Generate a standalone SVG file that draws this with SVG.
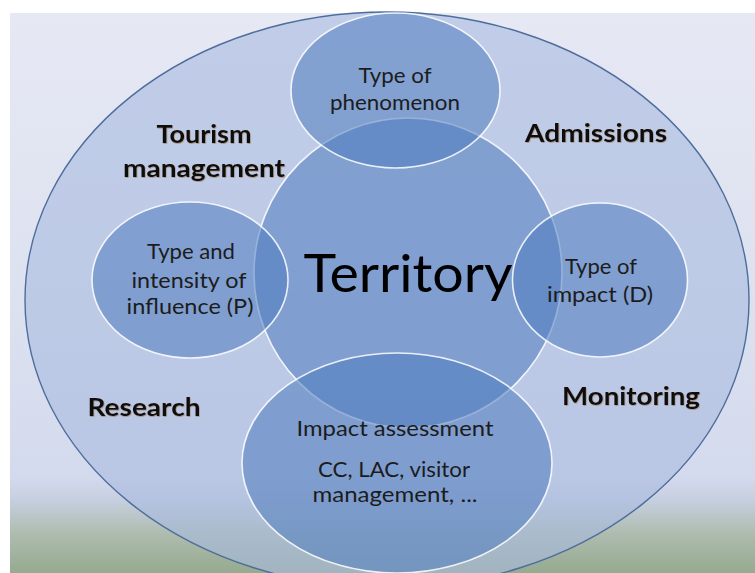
<svg xmlns="http://www.w3.org/2000/svg" width="755" height="573" viewBox="0 0 755 573">
  <defs>
    <linearGradient id="bg" x1="0" y1="13" x2="0" y2="573" gradientUnits="userSpaceOnUse">
      <stop offset="0" stop-color="#e6e8f4"/>
      <stop offset="0.5" stop-color="#dde2f0"/>
      <stop offset="0.83" stop-color="#d3daed"/>
      <stop offset="0.87" stop-color="#c6cfe0"/>
      <stop offset="0.93" stop-color="#aebcaf"/>
      <stop offset="1" stop-color="#95aa8f"/>
    </linearGradient>
    <filter id="glow" x="-10%" y="-30%" width="120%" height="160%">
      <feDropShadow dx="0.6" dy="0.8" stdDeviation="0.6" flood-color="#7a4a10" flood-opacity="0.45"/>
    </filter>
  </defs>
  <style>
    .outer { fill: #a9bbe0; fill-opacity: 0.6; stroke: #4d6d9c; stroke-width: 1.4; }
    .inner { fill: #4f7bbd; fill-opacity: 0.55; stroke: #ffffff; stroke-width: 1.6; stroke-opacity: 0.85; }
    .lbl { font-family: Lato, "Liberation Sans", sans-serif; font-weight: bold; font-size: 25px; fill: #111111; text-anchor: middle; }
    .txt { font-family: Lato, "Liberation Sans", sans-serif; font-size: 22px; fill: #1c1c1c; text-anchor: middle; }
    .big { font-family: Lato, "Liberation Sans", sans-serif; font-size: 52px; fill: #000000; text-anchor: middle; }
  </style>

  <rect x="10" y="13" width="745" height="560" fill="url(#bg)"/>

  <g id="outer">
    <ellipse class="outer" cx="387" cy="300" rx="362" ry="288"/>
  </g>

  <g id="territory">
    <ellipse class="inner" cx="408" cy="273" rx="154" ry="155"/>
  </g>
  <g id="phenomenon">
    <ellipse class="inner" cx="395.5" cy="90.5" rx="104.5" ry="77.5"/>
  </g>
  <g id="influence">
    <ellipse class="inner" cx="190" cy="280" rx="98" ry="78"/>
  </g>
  <g id="impact">
    <ellipse class="inner" cx="600" cy="280" rx="87.5" ry="77"/>
  </g>
  <g id="assessment">
    <ellipse class="inner" cx="397" cy="463" rx="155" ry="110"/>
  </g>

  <g id="territory-text">
    <text class="big" x="408" y="292" textLength="209" lengthAdjust="spacingAndGlyphs">Territory</text>
  </g>
  <g id="phenomenon-text">
    <text class="txt" x="395" y="83" textLength="73" lengthAdjust="spacingAndGlyphs">Type of</text>
    <text class="txt" x="395" y="110" textLength="130" lengthAdjust="spacingAndGlyphs">phenomenon</text>
  </g>
  <g id="influence-text">
    <text class="txt" x="191" y="259" textLength="88" lengthAdjust="spacingAndGlyphs">Type and</text>
    <text class="txt" x="189" y="288" textLength="115" lengthAdjust="spacingAndGlyphs">intensity of</text>
    <text class="txt" x="190" y="314" textLength="127" lengthAdjust="spacingAndGlyphs">influence (P)</text>
  </g>
  <g id="impact-text">
    <text class="txt" x="601" y="274" textLength="72" lengthAdjust="spacingAndGlyphs">Type of</text>
    <text class="txt" x="600" y="302" textLength="106" lengthAdjust="spacingAndGlyphs">impact (D)</text>
  </g>
  <g id="assessment-text">
    <text class="txt" x="395" y="436" textLength="197" lengthAdjust="spacingAndGlyphs">Impact assessment</text>
    <text class="txt" x="394" y="477" textLength="152" lengthAdjust="spacingAndGlyphs">CC, LAC, visitor</text>
    <text class="txt" x="395" y="502" textLength="165" lengthAdjust="spacingAndGlyphs">management, ...</text>
  </g>

  <g id="tourism-management" filter="url(#glow)">
    <text class="lbl" x="204" y="143" textLength="95" lengthAdjust="spacingAndGlyphs">Tourism</text>
    <text class="lbl" x="204" y="177" textLength="162" lengthAdjust="spacingAndGlyphs">management</text>
  </g>
  <g id="admissions" filter="url(#glow)">
    <text class="lbl" x="596" y="142" textLength="142" lengthAdjust="spacingAndGlyphs">Admissions</text>
  </g>
  <g id="research" filter="url(#glow)">
    <text class="lbl" x="144" y="416" textLength="113" lengthAdjust="spacingAndGlyphs">Research</text>
  </g>
  <g id="monitoring" filter="url(#glow)">
    <text class="lbl" x="631" y="405" textLength="138" lengthAdjust="spacingAndGlyphs">Monitoring</text>
  </g>
</svg>
